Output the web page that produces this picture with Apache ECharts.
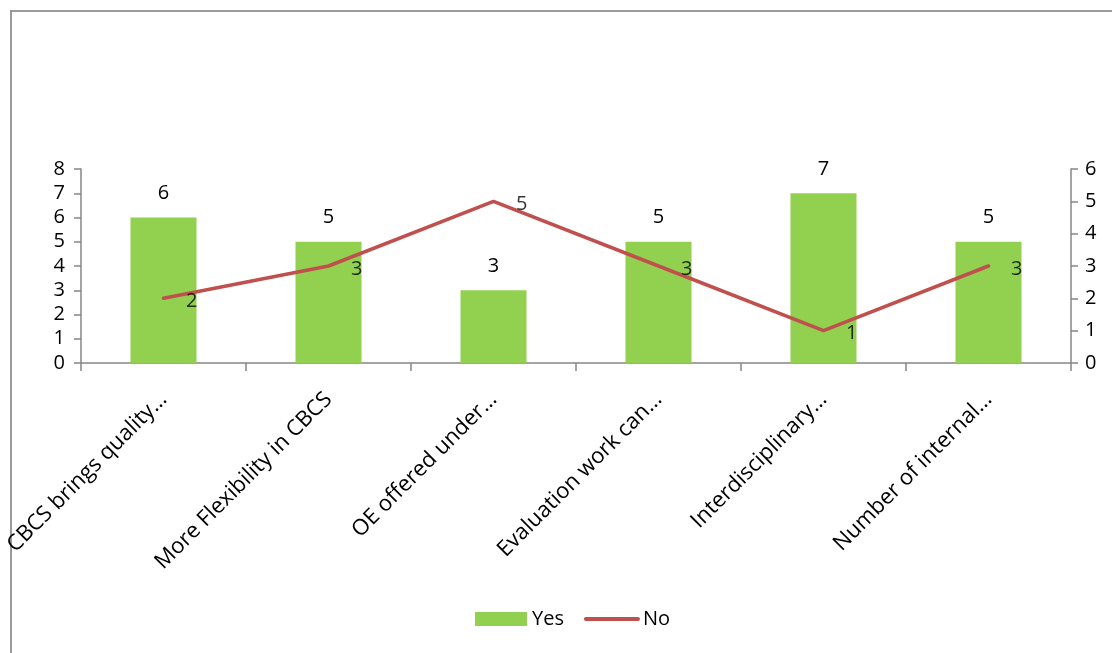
<!DOCTYPE html>
<html><head><meta charset="utf-8">
<script src="https://cdn.jsdelivr.net/npm/echarts@6/dist/echarts.min.js"></script>
<style>html,body{margin:0;padding:0;background:#fff}#c{width:1112px;height:653px}</style>
</head><body><div id="c"></div>
<script>
const categories = ["CBCS brings quality\u2026","More Flexibility in CBCS","OE offered under\u2026","Evaluation work can\u2026","Interdisciplinary\u2026","Number of internal\u2026"];
const yesValues = [6,5,3,5,7,5];
const noValues = [2,3,5,3,1,3];
const leftTicks = {min:0,max:8,interval:1};
const rightTicks = {min:0,max:6,interval:1};

const font = "'Open Sans','Liberation Sans',sans-serif";
const chart = echarts.init(document.getElementById('c'));
const axisLine = {show:true,lineStyle:{color:'#868686',width:1.5}};
chart.setOption({
  animation:false,
  textStyle:{fontFamily:font},
  graphic:[{type:'rect',shape:{x:11,y:11,width:1200,height:1000},style:{fill:null,stroke:'#9a9a9a',lineWidth:2},silent:true,z:-1}],
  grid:{left:81,right:41,top:169,bottom:290,containLabel:false,outerBoundsMode:'none'},
  legend:{bottom:19,left:470,itemWidth:52,itemHeight:14,itemGap:20,
    textStyle:{fontSize:20,color:'#000',fontFamily:font},
    data:[{name:'Yes',icon:'rect'},{name:'No',itemStyle:{opacity:0},lineStyle:{width:4,color:'#C0504D',cap:'round'}}]},
  xAxis:{type:'category',data:categories,axisLine:axisLine,
    axisTick:{show:true,length:8,lineStyle:{color:'#868686',width:1.5}},
    axisLabel:{rotate:45,fontSize:22,color:'#000',margin:33,interval:0,fontFamily:font}},
  yAxis:[
    {type:'value',min:leftTicks.min,max:leftTicks.max,interval:leftTicks.interval,position:'left',
     axisLine:axisLine,axisTick:{show:true,length:7,lineStyle:{color:'#868686',width:1.5}},
     splitLine:{show:false},axisLabel:{fontSize:20,color:'#000',margin:16,fontFamily:font}},
    {type:'value',min:rightTicks.min,max:rightTicks.max,interval:rightTicks.interval,position:'right',
     axisLine:axisLine,axisTick:{show:true,length:7,lineStyle:{color:'#868686',width:1.5}},
     splitLine:{show:false},axisLabel:{fontSize:20,color:'#000',margin:14,fontFamily:font}}
  ],
  series:[
    {name:'Yes',type:'bar',data:yesValues,yAxisIndex:0,barWidth:'40%',
     itemStyle:{color:'#92D050'},
     label:{show:true,position:'top',distance:14,fontSize:20,color:'#000',fontFamily:font}},
    {name:'No',type:'line',data:noValues,yAxisIndex:1,symbol:'none',
     lineStyle:{color:'#C0504D',width:3.5,cap:'round'},itemStyle:{color:'#C0504D'}},
    {name:'NoLabels',type:'scatter',data:noValues,yAxisIndex:1,symbolSize:1,
     itemStyle:{color:'rgba(0,0,0,0)'},silent:true,z:5,
     label:{show:true,position:'right',distance:22,offset:[0,3],fontSize:20,color:'#000',fontFamily:font}}
  ]
});
</script></body></html>
